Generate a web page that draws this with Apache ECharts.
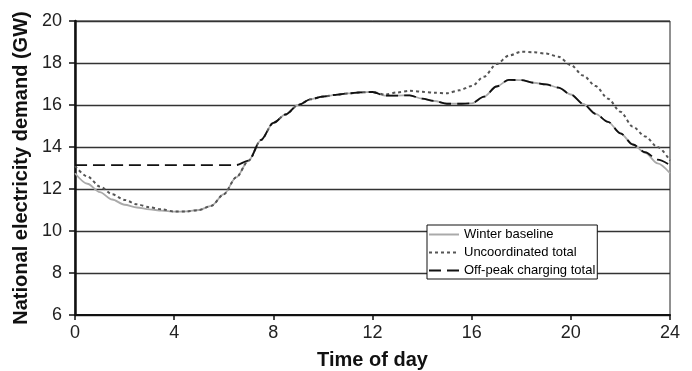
<!DOCTYPE html>
<html>
<head>
<meta charset="utf-8">
<script src="https://cdn.jsdelivr.net/npm/echarts@6/dist/echarts.min.js"></script>
<style>
html,body{margin:0;padding:0;background:#fff;}
#chart{width:692px;height:371px;}
</style>
</head>
<body>
<div id="chart"></div>
<script>
var hours = [0,0.5,1,1.5,2,2.5,3,3.5,4,4.5,5,5.5,6,6.5,7,7.5,8,8.5,9,9.5,10,10.5,11,11.5,12,12.5,13,13.5,14,14.5,15,15.5,16,16.5,17,17.5,18,18.5,19,19.5,20,20.5,21,21.5,22,22.5,23,23.5,24];

var winterBaseline = [12.75,12.25,11.85,11.5,11.25,11.12,11.03,10.97,10.92,10.93,11.0,11.2,11.75,12.55,13.35,14.33,15.15,15.55,16.0,16.27,16.4,16.48,16.55,16.6,16.62,16.45,16.45,16.46,16.3,16.19,16.06,16.06,16.08,16.4,16.88,17.2,17.18,17.06,16.98,16.83,16.5,16.05,15.58,15.2,14.65,14.12,13.72,13.22,12.75];

var uncoordinatedTotal = [13.1,12.6,12.12,11.75,11.48,11.27,11.13,11.03,10.93,10.93,11.0,11.2,11.75,12.55,13.35,14.33,15.15,15.55,16.0,16.27,16.4,16.48,16.55,16.6,16.62,16.5,16.6,16.68,16.63,16.58,16.56,16.7,16.9,17.35,17.95,18.35,18.54,18.51,18.45,18.3,17.9,17.4,16.9,16.3,15.68,14.97,14.5,14.0,13.35];

var offPeakTotal = [13.14,13.14,13.14,13.14,13.14,13.14,13.14,13.14,13.14,13.14,13.14,13.14,13.14,13.14,13.35,14.33,15.15,15.55,16.0,16.27,16.4,16.48,16.55,16.6,16.62,16.45,16.45,16.46,16.3,16.19,16.06,16.06,16.08,16.4,16.88,17.2,17.18,17.06,16.98,16.83,16.5,16.05,15.58,15.2,14.65,14.12,13.75,13.4,13.14];

var seriesNames = ['Winter baseline','Uncoordinated total','Off-peak charging total'];
var xTitle = 'Time of day';
var yTitle = 'National electricity demand (GW)';

function pairs(vals){ return hours.map(function(h,i){ return [h, vals[i]]; }); }

var FONT = '"Liberation Sans", Arial, sans-serif';
var chart = echarts.init(document.getElementById('chart'), null, {renderer:'canvas'});
chart.setOption({
  animation:false,
  backgroundColor:'#fff',
  grid:{left:75,right:22,top:21,bottom:56,show:true,borderColor:'#222',borderWidth:1,backgroundColor:'transparent',
        containLabel:false,outerBoundsMode:'none'},
  legend:{
    orient:'vertical',left:427,top:225,
    backgroundColor:'#fff',borderColor:'#111',borderWidth:1,
    padding:[3,2,2,1],itemGap:5,itemWidth:30,itemHeight:14,
    itemStyle:{opacity:0},
    textStyle:{fontFamily:FONT,fontSize:13,color:'#000'},
    data:seriesNames
  },
  xAxis:{
    type:'value',min:0,max:24,interval:4,
    name:xTitle,nameLocation:'middle',nameGap:35,
    nameTextStyle:{fontFamily:FONT,fontSize:20,fontWeight:'bold',color:'#111'},
    axisLine:{show:true,onZero:false,lineStyle:{color:'#111',width:2}},
    axisTick:{show:true,length:5,lineStyle:{color:'#111',width:1.5}},
    axisLabel:{fontFamily:FONT,fontSize:18,color:'#222',margin:9},
    splitLine:{show:false}
  },
  yAxis:{
    type:'value',min:6,max:20,interval:2,
    name:yTitle,nameLocation:'middle',nameGap:33,
    nameTextStyle:{fontFamily:FONT,fontSize:20,fontWeight:'bold',color:'#111'},
    axisLine:{show:true,lineStyle:{color:'#111',width:2.5}},
    axisTick:{show:true,length:6,lineStyle:{color:'#111',width:1.5}},
    axisLabel:{fontFamily:FONT,fontSize:18,color:'#222',margin:13},
    splitLine:{show:true,lineStyle:{color:'#333',width:1.3}}
  },
  series:[
    {name:seriesNames[0],type:'line',data:pairs(winterBaseline),smooth:0.3,smoothMonotone:'x',showSymbol:false,symbol:'none',
     lineStyle:{color:'#aaaaaa',width:1.8,type:'solid'},itemStyle:{color:'#aaaaaa'},z:2},
    {name:seriesNames[1],type:'line',data:pairs(uncoordinatedTotal),smooth:0.3,smoothMonotone:'x',showSymbol:false,symbol:'none',
     lineStyle:{color:'#555555',width:2,type:[3,3]},itemStyle:{color:'#555555'},z:3},
    {name:seriesNames[2],type:'line',data:pairs(offPeakTotal),smooth:0.3,smoothMonotone:'x',showSymbol:false,symbol:'none',
     lineStyle:{color:'#111111',width:1.8,type:[12,6]},itemStyle:{color:'#111111'},z:4}
  ]
});
</script>
</body>
</html>
